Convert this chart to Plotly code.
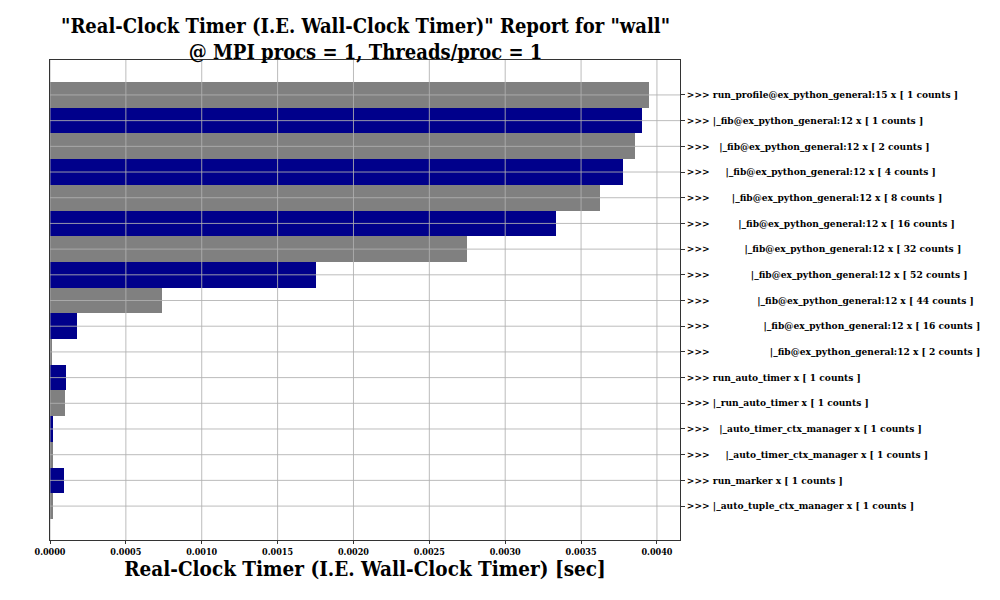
import plotly.graph_objects as go

NB = "\u00a0"

def ind(n):
    return NB * n

labels = [
    ">>>" + ind(1) + "run_profile@ex_python_general:15 x [ 1 counts ]",
    ">>>" + ind(1) + "|_fib@ex_python_general:12 x [ 1 counts ]",
    ">>>" + ind(3) + "|_fib@ex_python_general:12 x [ 2 counts ]",
    ">>>" + ind(5) + "|_fib@ex_python_general:12 x [ 4 counts ]",
    ">>>" + ind(7) + "|_fib@ex_python_general:12 x [ 8 counts ]",
    ">>>" + ind(9) + "|_fib@ex_python_general:12 x [ 16 counts ]",
    ">>>" + ind(11) + "|_fib@ex_python_general:12 x [ 32 counts ]",
    ">>>" + ind(13) + "|_fib@ex_python_general:12 x [ 52 counts ]",
    ">>>" + ind(15) + "|_fib@ex_python_general:12 x [ 44 counts ]",
    ">>>" + ind(17) + "|_fib@ex_python_general:12 x [ 16 counts ]",
    ">>>" + ind(19) + "|_fib@ex_python_general:12 x [ 2 counts ]",
    ">>>" + ind(1) + "run_auto_timer x [ 1 counts ]",
    ">>>" + ind(1) + "|_run_auto_timer x [ 1 counts ]",
    ">>>" + ind(3) + "|_auto_timer_ctx_manager x [ 1 counts ]",
    ">>>" + ind(5) + "|_auto_timer_ctx_manager x [ 1 counts ]",
    ">>>" + ind(1) + "run_marker x [ 1 counts ]",
    ">>>" + ind(1) + "|_auto_tuple_ctx_manager x [ 1 counts ]",
]

values = [
    0.003949, 0.003903, 0.003855, 0.003776, 0.003627, 0.003335,
    0.002750, 0.001756, 0.000735, 0.000179, 0.000010, 0.000107,
    0.000100, 0.000021, 0.000021, 0.000089, 0.000021,
]

bar_colors = ["#808080" if i % 2 == 0 else "#00008b" for i in range(len(values))]

xticks = [0.0, 0.0005, 0.0010, 0.0015, 0.0020, 0.0025, 0.0030, 0.0035, 0.0040]
xtick_text = ["%.4f" % v for v in xticks]

title_text = '"Real-Clock Timer (I.E. Wall-Clock Timer)" Report for "wall"<br>@ MPI procs = 1, Threads/proc = 1'
xaxis_title = "Real-Clock Timer (I.E. Wall-Clock Timer) [sec]"

SERIF = "DejaVu Serif Condensed, DejaVu Serif, serif"
SERIF_N = "DejaVu Serif, serif"

fig = go.Figure()
fig.add_trace(go.Bar(
    x=values, y=labels, orientation="h",
    marker=dict(color=bar_colors, line=dict(width=0)),
    width=1.0,
))

grid_col = "rgba(176,176,176,0.85)"
shapes = []
for xv in xticks:
    shapes.append(dict(type="line", xref="x", yref="paper", x0=xv, x1=xv, y0=0, y1=1,
                       line=dict(color=grid_col, width=1), layer="above"))
for lab in labels:
    shapes.append(dict(type="line", xref="paper", yref="y", x0=0, x1=1, y0=lab, y1=lab,
                       line=dict(color=grid_col, width=1), layer="above"))

title_font = dict(family=SERIF, size=20, color="black", weight="bold")
annotations = [
    dict(text=title_text, xref="paper", yref="paper", x=0.5, y=1 + 21.5 / 480,
         xanchor="center", yanchor="middle", showarrow=False, font=title_font),
]

n = len(labels)
fig.update_layout(
    width=1000, height=600,
    margin=dict(l=50, r=320, t=60, b=60),
    paper_bgcolor="white", plot_bgcolor="white",
    showlegend=False,
    bargap=0,
    shapes=shapes,
    annotations=annotations,
    xaxis=dict(
        range=[0, 0.004152], tickvals=xticks, ticktext=xtick_text,
        showgrid=False, zeroline=False,
        showline=True, linecolor="#333333", linewidth=1, mirror=True,
        ticks="outside", ticklen=3, tickcolor="#333333",
        tickfont=dict(family=SERIF, size=9, color="black", weight="bold"),
        title=dict(text=xaxis_title, standoff=1,
                   font=dict(family=SERIF, size=20.5, color="black", weight="bold")),
    ),
    yaxis=dict(
        type="category", categoryorder="array", categoryarray=labels,
        range=[n - 1 + 1.32, -1.36],
        side="right",
        showgrid=False, zeroline=False,
        showline=True, linecolor="#333333", linewidth=1, mirror=True,
        ticks="outside", ticklen=4, tickcolor="#333333",
        tickfont=dict(family=SERIF_N, size=9.1, color="black", weight="bold"),
    ),
)

fig.write_html("out.html")
